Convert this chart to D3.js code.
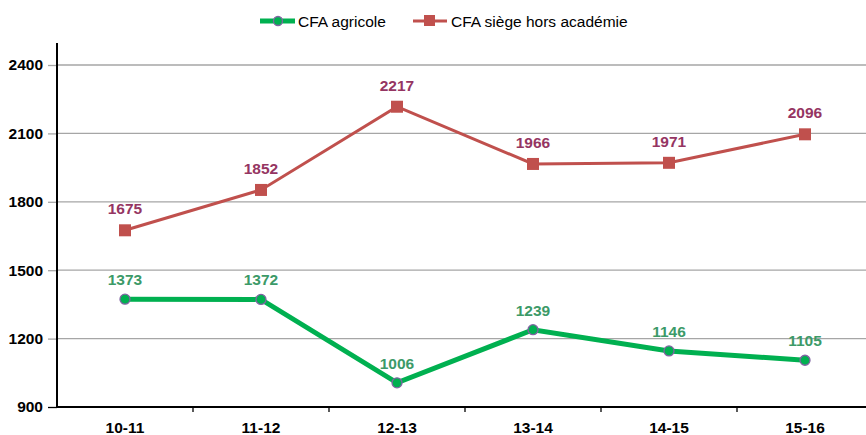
<!DOCTYPE html>
<html><head><meta charset="utf-8">
<script src="https://cdn.jsdelivr.net/npm/d3@7"></script>
<style>body{margin:0;background:#fff;} text{font-family:"Liberation Sans",Arial,sans-serif;}</style>
</head><body>
<svg id="c" width="866" height="435"></svg>
<script>
const categories = ["10-11","11-12","12-13","13-14","14-15","15-16"];
const agricole = [1373,1372,1006,1239,1146,1105];
const horsAcademie = [1675,1852,2217,1966,1971,2096];
const yTicks = [900,1200,1500,1800,2100,2400];
const seriesNames = ["CFA agricole","CFA siège hors académie"];

const FS = 15.5;
const svg = d3.select("#c");
const mLeft = 57, mTop = 43, mBottom = 407;
const x = d3.scaleBand().domain(categories).range([mLeft, mLeft + 6*136]);
const y = d3.scaleLinear().domain([900, 2400]).range([mBottom, 65]);
const cx = d => x(d) + x.bandwidth()/2;

// gridlines
svg.append("g").selectAll("line").data(yTicks.filter(t=>t>900)).join("line")
  .attr("x1", mLeft).attr("x2", 866).attr("y1", d=>y(d)).attr("y2", d=>y(d))
  .attr("stroke", "#a6a6a6").attr("stroke-width", 1.3);

// y axis
const ya = svg.append("g").attr("transform", `translate(${mLeft},0)`)
  .call(d3.axisLeft(y).tickValues(yTicks).tickFormat(d3.format("d")).tickSize(9).tickPadding(5));
ya.select(".domain").remove();
ya.selectAll("line").attr("stroke", d => d===900 ? "#000" : "#a6a6a6").attr("stroke-width", 1.3);
ya.selectAll("text").attr("font-size", FS).attr("font-weight", "bold").attr("fill", "#000")
  .style("font-family", '"Liberation Sans",Arial,sans-serif');
svg.append("line").attr("x1", mLeft).attr("x2", mLeft).attr("y1", mTop).attr("y2", mBottom+1)
  .attr("stroke", "#000").attr("stroke-width", 2);

// x axis
const xa = svg.append("g").attr("transform", `translate(0,${mBottom})`)
  .call(d3.axisBottom(x).tickSize(0).tickPadding(15));
xa.select(".domain").remove();
xa.selectAll("text").attr("font-size", FS).attr("font-weight", "bold").attr("fill", "#000")
  .style("font-family", '"Liberation Sans",Arial,sans-serif');
svg.append("line").attr("x1", mLeft).attr("x2", 866).attr("y1", mBottom).attr("y2", mBottom)
  .attr("stroke", "#000").attr("stroke-width", 2);
svg.append("g").selectAll("line").data(categories.slice(1)).join("line")
  .attr("x1", d=>x(d)).attr("x2", d=>x(d)).attr("y1", mBottom).attr("y2", mBottom+5)
  .attr("stroke", "#000").attr("stroke-width", 1.3);

const line = d3.line().x((d,i)=>cx(categories[i])).y(d=>y(d));

// red series
svg.append("path").datum(horsAcademie).attr("d", line).attr("fill","none")
  .attr("stroke", "#c0504d").attr("stroke-width", 3);
svg.append("g").selectAll("rect").data(horsAcademie).join("rect")
  .attr("x",(d,i)=>cx(categories[i])-6).attr("y",d=>y(d)-6).attr("width",12).attr("height",12)
  .attr("fill","#c0504d");
svg.append("g").selectAll("text").data(horsAcademie).join("text")
  .attr("x",(d,i)=>cx(categories[i])).attr("y",d=>y(d)-16).attr("text-anchor","middle")
  .attr("font-size",FS).attr("font-weight","bold").attr("fill","#953562").text(d=>d);

// green series
svg.append("path").datum(agricole).attr("d", line).attr("fill","none")
  .attr("stroke", "#00b050").attr("stroke-width", 5);
svg.append("g").selectAll("circle").data(agricole).join("circle")
  .attr("cx",(d,i)=>cx(categories[i])).attr("cy",d=>y(d)).attr("r",5)
  .attr("fill","#00b050").attr("stroke","#8064a2").attr("stroke-width",1.3);
svg.append("g").selectAll("text").data(agricole).join("text")
  .attr("x",(d,i)=>cx(categories[i])).attr("y",d=>y(d)-14).attr("text-anchor","middle")
  .attr("font-size",FS).attr("font-weight","bold").attr("fill","#3c9a68").text(d=>d);

// legend
const lg = svg.append("g");
lg.append("line").attr("x1",260).attr("x2",295).attr("y1",21).attr("y2",21).attr("stroke","#00b050").attr("stroke-width",5);
lg.append("circle").attr("cx",278).attr("cy",21).attr("r",4.5).attr("fill","#00b050").attr("stroke","#8064a2").attr("stroke-width",1.3);
lg.append("text").attr("x",298).attr("y",26.5).attr("font-size",FS).attr("fill","#000").text(seriesNames[0]);
lg.append("line").attr("x1",413).attr("x2",447).attr("y1",21).attr("y2",21).attr("stroke","#c0504d").attr("stroke-width",3);
lg.append("rect").attr("x",424).attr("y",15).attr("width",11).attr("height",11).attr("fill","#c0504d");
lg.append("text").attr("x",451).attr("y",26.5).attr("font-size",FS).attr("fill","#000").text(seriesNames[1]);
</script>
</body></html>
